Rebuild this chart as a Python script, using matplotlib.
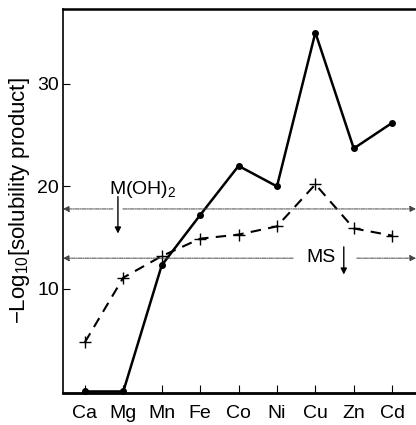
import numpy as np
import matplotlib
matplotlib.use('Agg')
import matplotlib.pyplot as plt

plt.rcParams['font.family'] = ['Liberation Sans', 'DejaVu Sans']
plt.rcParams['mathtext.fontset'] = 'custom'
plt.rcParams['mathtext.rm'] = 'Liberation Sans'
plt.rcParams['mathtext.it'] = 'Liberation Sans'

# Metals along the x axis
metals = ['Ca', 'Mg', 'Mn', 'Fe', 'Co', 'Ni', 'Cu', 'Zn', 'Cd']
# -log10 of solubility product, hydroxides (solid) and sulfides (dashed)
hydroxide = [0.0, 0.0, 12.3, 17.2, 22.0, 20.0, 35.0, 23.7, 26.2]
sulfide = [4.8, 11.1, 13.2, 14.9, 15.3, 16.1, 20.2, 15.9, 15.2]
# Reference levels marked by the horizontal arrows
level_oh = 17.8
level_ms = 13.0

fig = plt.figure(figsize=(4.16, 4.25), dpi=100)
ax = fig.add_axes([63/416, 32/425, 353/416, 384/425])

x = np.arange(len(metals))
ax.plot(x, hydroxide, color='black', lw=1.8, marker='o', ms=4, clip_on=False, zorder=3)
ax.plot(x, sulfide, color='black', lw=1.5, ls=(0, (5, 3.5)), marker='+', ms=9,
        mew=1.0, clip_on=False, zorder=3)

xl, xr = -0.57, 8.62
ax.set_xlim(xl, xr)
ax.set_ylim(-0.15, 37.3)

# Horizontal level lines with arrowheads
line_kw = dict(arrowstyle='-|>', color='#444444', lw=0.7, ls=(0, (4, 1, 1, 1)),
               mutation_scale=9, shrinkA=0, shrinkB=0)
ax.annotate('', xy=(xl, level_oh), xytext=(0.73, level_oh), arrowprops=line_kw)
ax.annotate('', xy=(xr, level_oh), xytext=(0.99, level_oh), arrowprops=line_kw)
ax.annotate('', xy=(xl, level_ms), xytext=(5.42, level_ms), arrowprops=line_kw)
ax.annotate('', xy=(xr, level_ms), xytext=(7.08, level_ms), arrowprops=line_kw)

# Labels with down arrows
ax.text(0.63, 18.7, r'M(OH)$_2$', fontsize=14, ha='left', va='bottom')
ax.annotate('', xy=(0.86, 15.4), xytext=(0.86, 19.0),
            arrowprops=dict(arrowstyle='-|>', color='black', lw=1.0,
                            mutation_scale=9, shrinkA=0, shrinkB=0))
ax.text(6.53, 13.1, 'MS', fontsize=14, ha='right', va='center')
ax.annotate('', xy=(6.74, 11.4), xytext=(6.74, 14.1),
            arrowprops=dict(arrowstyle='-|>', color='black', lw=1.0,
                            mutation_scale=9, shrinkA=0, shrinkB=0))

ax.set_xticks(x)
ax.set_xticklabels(metals)
ax.set_yticks([10, 20, 30])
ax.tick_params(axis='both', direction='in', labelsize=14, width=0.8)
ax.tick_params(axis='y', length=5, pad=3)
ax.tick_params(axis='x', length=6, pad=9)
ax.set_ylabel(r'$-$Log$_{10}$[solubility product]', fontsize=16, labelpad=4)

ax.spines['right'].set_visible(False)
ax.spines['bottom'].set_linewidth(2.0)
ax.spines['top'].set_linewidth(1.8)
ax.spines['left'].set_linewidth(1.2)

fig.savefig('out.png', dpi=100)
